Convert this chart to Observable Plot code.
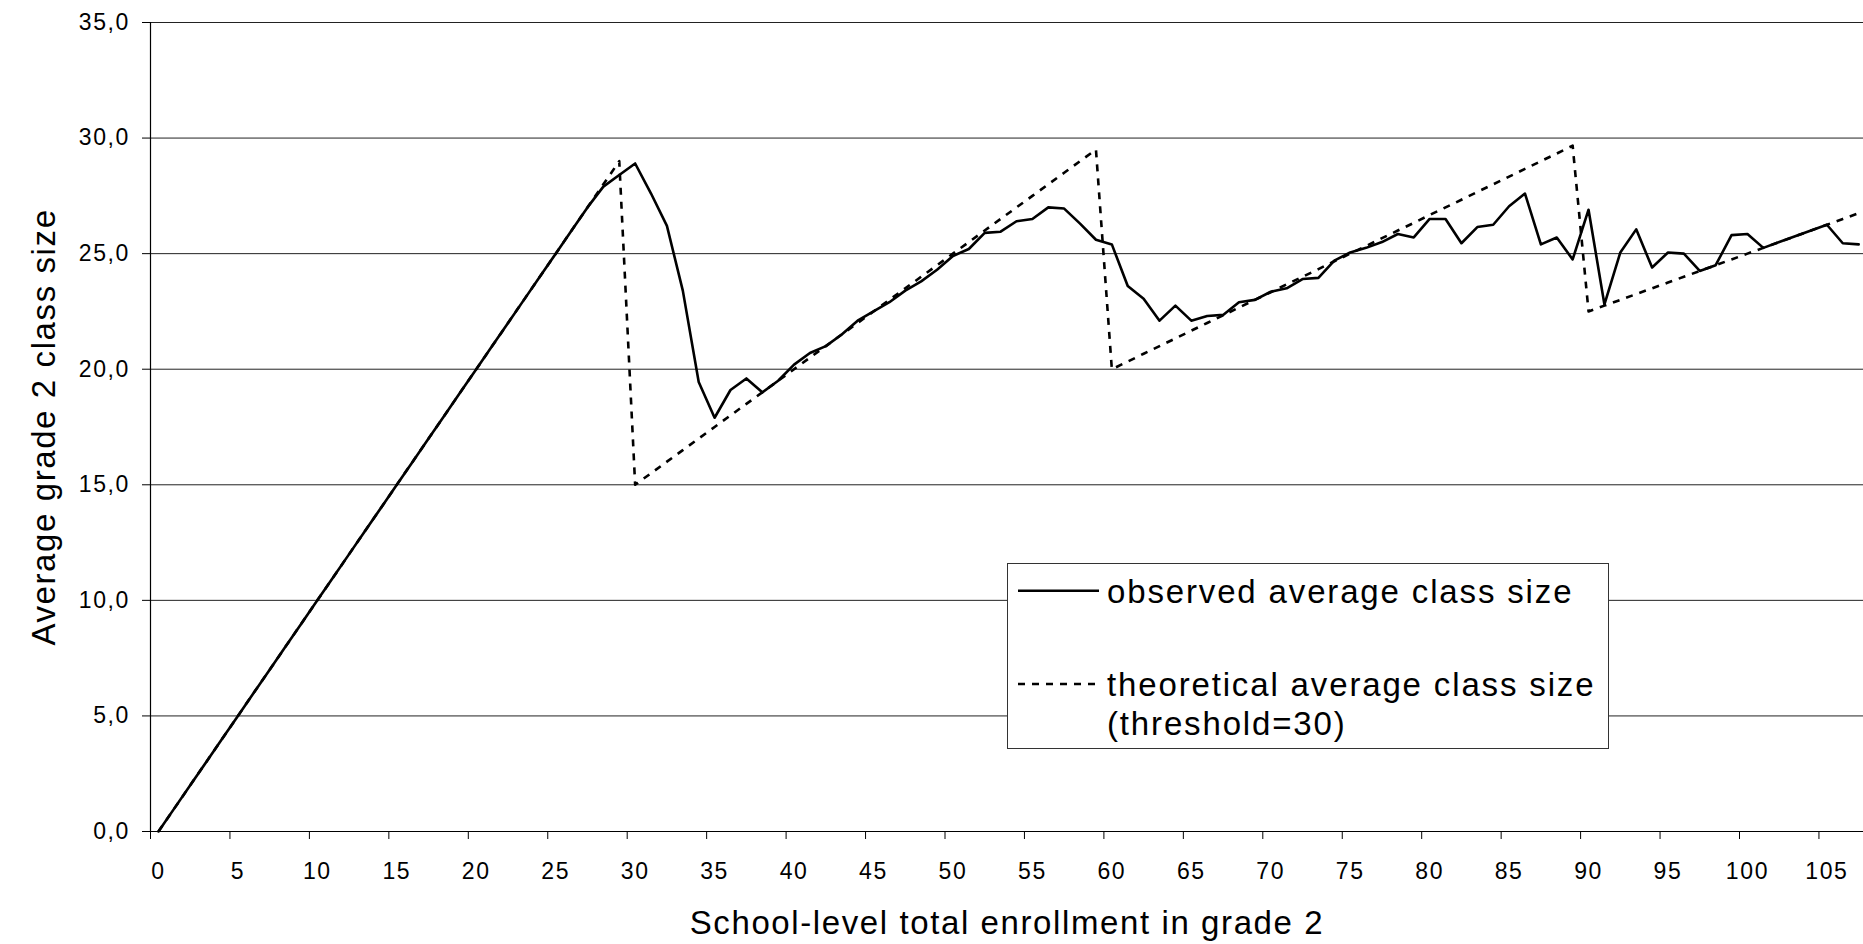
<!DOCTYPE html>
<html>
<head>
<meta charset="utf-8">
<script src="https://cdn.jsdelivr.net/npm/d3@7"></script>
<script src="https://cdn.jsdelivr.net/npm/@observablehq/plot@0.6"></script>
<style>
  html, body { margin: 0; padding: 0; background: #fff; }
  #wrap { position: relative; width: 1863px; height: 944px; overflow: hidden;
          font-family: "Liberation Sans", Arial, sans-serif; color: #000; }
  #legend { position: absolute; left: 1007px; top: 563px; width: 600px; height: 184px;
            border: 1px solid #333; background: #fff; }
  #legend svg { position: absolute; left: 0; top: 0; }
  #legend text { font-family: "Liberation Sans", Arial, sans-serif; font-size: 33px; letter-spacing: 1.85px; fill: #000; }
</style>
</head>
<body>
<div id="wrap"></div>
<script>
// ---- data ----
const enrollment = [0,1,2,3,4,5,6,7,8,9,10,11,12,13,14,15,16,17,18,19,20,21,22,23,24,25,26,27,28,29,
  30,31,32,33,34,35,36,37,38,39,40,41,42,43,44,45,46,47,48,49,50,51,52,53,54,55,56,57,58,59,
  60,61,62,63,64,65,66,67,68,69,70,71,72,73,74,75,76,77,78,79,80,81,82,83,84,85,86,87,88,89,
  90,91,92,93,94,95,96,97,98,99,100,101,102,103,104,105,106,107];

const observed = [0,1,2,3,4,5,6,7,8,9,10,11,12,13,14,15,16,17,18,19,20,21,22,23,24,25,26,27,27.9,28.4,
  28.9,27.6,26.2,23.4,19.45,17.9,19.1,19.6,19.0,19.5,20.2,20.7,21.0,21.5,22.1,22.5,22.9,23.4,23.8,24.3,
  24.9,25.2,25.9,25.95,26.4,26.5,27.0,26.95,26.3,25.6,25.4,23.6,23.05,22.1,22.75,22.1,22.3,22.35,22.9,23.0,
  23.35,23.5,23.9,23.95,24.7,25.05,25.25,25.5,25.85,25.7,26.5,26.5,25.45,26.15,26.25,27.05,27.6,25.4,25.7,24.75,
  26.9,22.8,25.05,26.05,24.4,25.05,25.0,24.25,24.5,25.8,25.85,25.25,25.5,25.75,26.0,26.25,25.45,25.4];

const theoretical = [0,1,2,3,4,5,6,7,8,9,10,11,12,13,14,15,16,17,18,19,20,21,22,23,24,25,26,27,28,29,
  15,15.5,16,16.5,17,17.5,18,18.5,19,19.5,20,20.5,21,21.5,22,22.5,23,23.5,24,24.5,25,25.5,26,26.5,27,27.5,28,28.5,29,29.5,
  20,20.33,20.67,21,21.33,21.67,22,22.33,22.67,23,23.33,23.67,24,24.33,24.67,25,25.33,25.67,26,26.33,26.67,27,27.33,27.67,28,28.33,28.67,29,29.33,29.67,
  22.5,22.75,23,23.25,23.5,23.75,24,24.25,24.5,24.75,25,25.25,25.5,25.75,26,26.25,26.5,26.75];

const xTickLabels = [0,5,10,15,20,25,30,35,40,45,50,55,60,65,70,75,80,85,90,95,100,105];
const yTicks = [0,5,10,15,20,25,30,35];

const xTitle = "School-level total enrollment in grade 2";
const yTitle = "Average grade 2 class size";
const legendLabels = ["observed average class size", "theoretical average class size", "(threshold=30)"];

// tables built from the arrays
const obsData = enrollment.map((e, i) => ({e, v: observed[i]}));
const theoData = enrollment.map((e, i) => ({e, v: theoretical[i]}));
// category axis: tick marks sit on category boundaries, labels on category centres
const xBoundaries = xTickLabels.map(d => d - 0.5);
const xDomain = [-0.5, enrollment.length - 0.5];

const chart = Plot.plot({
  width: 1863,
  height: 944,
  marginLeft: 150,
  marginRight: 0,
  marginTop: 22,
  marginBottom: 113,
  style: {fontFamily: '"Liberation Sans", Arial, sans-serif', color: "#000", background: "#fff", letterSpacing: "1.6px"},
  x: {type: "linear", domain: xDomain, range: [150, 150 + 15.89 * enrollment.length], axis: null, label: null},
  y: {type: "linear", domain: [0, 35], range: [831, 22], axis: null, label: null},
  marks: [
    Plot.ruleY(yTicks.filter(d => d > 0), {stroke: "#222", strokeWidth: 1}),
    Plot.ruleY([0], {stroke: "#000", strokeWidth: 1.2}),
    Plot.ruleX([xDomain[0]], {y1: 0, y2: 35, stroke: "#000", strokeWidth: 1.2}),
    Plot.axisX({ticks: xBoundaries, tickSize: 8, tickFormat: () => "", stroke: "#000", label: null}),
    Plot.axisX({ticks: xTickLabels, tickSize: 0, tickPadding: 31, fontSize: 23, tickFormat: d => String(d), label: null}),
    Plot.axisY({ticks: yTicks, tickSize: 8, tickPadding: 12.5, fontSize: 23,
                tickFormat: d => d.toFixed(1).replace(".", ","), stroke: "#000", label: null}),
    Plot.line(obsData, {x: "e", y: "v", stroke: "#000", strokeWidth: 2.6}),
    Plot.line(theoData, {x: "e", y: "v", stroke: "#000", strokeWidth: 2.6,
                         strokeDasharray: "7,7", strokeLinecap: "butt"}),
    Plot.text([xTitle], {frameAnchor: "bottom", dy: 91.7, fontSize: 33, textAnchor: "middle", lineAnchor: "middle", ariaLabel: "x-title"}),
    Plot.text([yTitle], {frameAnchor: "left", dx: -105.6, rotate: -90, fontSize: 33, textAnchor: "middle", lineAnchor: "middle", ariaLabel: "y-title"})
  ]
});

chart.querySelectorAll('g[aria-label="x-title"] text, g[aria-label="y-title"] text')
  .forEach(t => t.style.letterSpacing = "1.8px");

const wrap = document.getElementById("wrap");
wrap.appendChild(chart);

// legend (inside the plot area, as in the reference)
const legend = document.createElement("div");
legend.id = "legend";
const ns = "http://www.w3.org/2000/svg";
const lsvg = document.createElementNS(ns, "svg");
lsvg.setAttribute("width", 600);
lsvg.setAttribute("height", 184);
function addLine(x1, x2, y, dash) {
  const l = document.createElementNS(ns, "line");
  l.setAttribute("x1", x1); l.setAttribute("x2", x2);
  l.setAttribute("y1", y); l.setAttribute("y2", y);
  l.setAttribute("stroke", "#000"); l.setAttribute("stroke-width", 2.6);
  if (dash) l.setAttribute("stroke-dasharray", dash);
  lsvg.appendChild(l);
}
function addText(str, x, y) {
  const t = document.createElementNS(ns, "text");
  t.setAttribute("x", x); t.setAttribute("y", y);
  t.textContent = str;
  lsvg.appendChild(t);
}
addLine(10, 91, 26.7, null);
addLine(10, 94, 120, "7,7");
addText(legendLabels[0], 99, 39);
addText(legendLabels[1], 99, 132);
addText(legendLabels[2], 99, 171);
legend.appendChild(lsvg);
wrap.appendChild(legend);
</script>
</body>
</html>
